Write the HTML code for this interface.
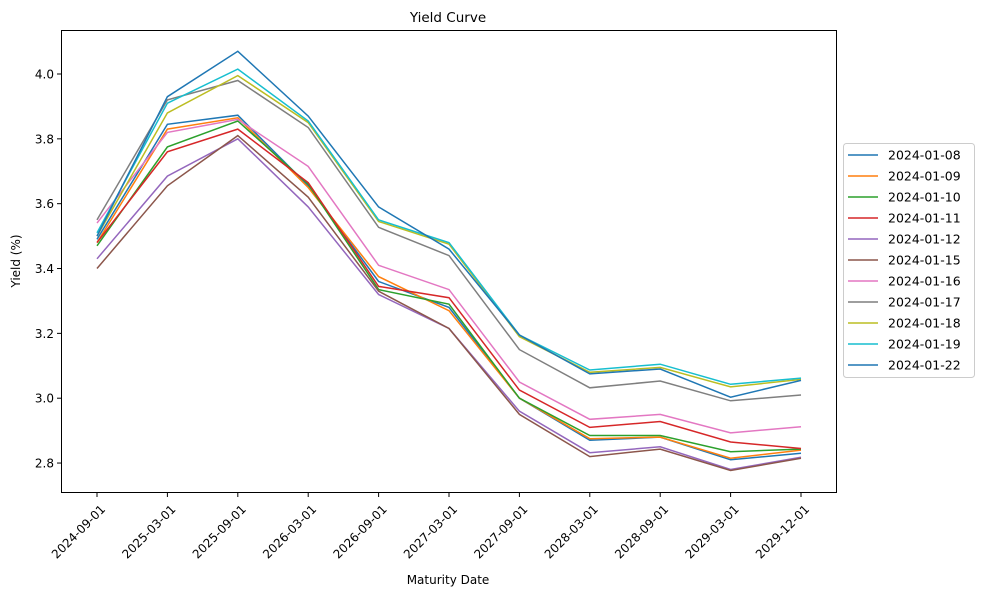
<!DOCTYPE html>
<html><head><meta charset="utf-8"><style>
body{margin:0;background:#fff}
svg{display:block;font-family:"DejaVu Sans","Liberation Sans",sans-serif}
</style></head><body>
<svg id="chart" width="984" height="598" xmlns="http://www.w3.org/2000/svg">
<rect x="0" y="0" width="984" height="598" fill="#fff"/>
<text x="448" y="22" font-size="13.5" text-anchor="middle">Yield Curve</text>
<text x="448" y="584" font-size="12" text-anchor="middle">Maturity Date</text>
<text x="20" y="261" font-size="12" text-anchor="middle" transform="rotate(-90 20 261)">Yield (%)</text>
<g id="plot"></g>
<rect x="61.5" y="30.5" width="775" height="462" fill="none" stroke="#000" stroke-width="1"/>
<g id="legend"></g>
</svg>
<script>
const categories=["2024-09-01","2025-03-01","2025-09-01","2026-03-01","2026-09-01","2027-03-01","2027-09-01","2028-03-01","2028-09-01","2029-03-01","2029-12-01"];
const seriesNames=["2024-01-08","2024-01-09","2024-01-10","2024-01-11","2024-01-12","2024-01-15","2024-01-16","2024-01-17","2024-01-18","2024-01-19","2024-01-22"];
const colors=["#1f77b4","#ff7f0e","#2ca02c","#d62728","#9467bd","#8c564b","#e377c2","#7f7f7f","#bcbd22","#17becf","#1f77b4"];
const s0108=[3.49,3.845,3.873,3.655,3.36,3.28,3.0,2.87,2.88,2.81,2.83];
const s0109=[3.48,3.83,3.865,3.65,3.375,3.27,3.0,2.875,2.88,2.815,2.84];
const s0110=[3.47,3.775,3.855,3.66,3.335,3.29,3.0,2.885,2.885,2.835,2.843];
const s0111=[3.48,3.76,3.83,3.665,3.345,3.31,3.025,2.91,2.928,2.865,2.845];
const s0112=[3.43,3.685,3.80,3.59,3.32,3.215,2.96,2.832,2.85,2.78,2.818];
const s0115=[3.40,3.655,3.81,3.62,3.33,3.215,2.95,2.82,2.843,2.777,2.815];
const s0116=[3.54,3.82,3.86,3.715,3.41,3.335,3.05,2.935,2.95,2.893,2.912];
const s0117=[3.55,3.92,3.98,3.835,3.527,3.44,3.15,3.032,3.053,2.992,3.01];
const s0118=[3.50,3.88,3.995,3.85,3.545,3.475,3.19,3.08,3.095,3.035,3.058];
const s0119=[3.51,3.91,4.015,3.855,3.55,3.48,3.195,3.087,3.105,3.043,3.062];
const s0122=[3.50,3.93,4.07,3.87,3.59,3.46,3.195,3.075,3.09,3.003,3.055];
const seriesValues=[s0108,s0109,s0110,s0111,s0112,s0115,s0116,s0117,s0118,s0119,s0122];
const yTicks=[2.8,3.0,3.2,3.4,3.6,3.8,4.0];

const NS="http://www.w3.org/2000/svg";
function xScale(i){return 97+i*(801-97)/(categories.length-1);}
function yScale(v){return 74+(4.0-v)*324.2;}
const plot=document.getElementById('plot');
function mk(tag,attrs,parent){const e=document.createElementNS(NS,tag);for(const k in attrs)e.setAttribute(k,attrs[k]);parent.appendChild(e);return e;}

yTicks.forEach(t=>{
  const y=yScale(t);
  const tk=mk('line',{x1:57,x2:61.5,y1:y,y2:y,stroke:'#000'},plot);
  
  
  const lb=mk('text',{x:54,y:y+4.5,'font-size':12,'text-anchor':'end'},plot);
  lb.textContent=t.toFixed(1);
  
  
});
categories.forEach((c,i)=>{
  const x=xScale(i);
  const tk=mk('line',{x1:x,x2:x,y1:492.5,y2:497,stroke:'#000'},plot);
  
  
  const ax=x+9, ay=510;
  const lb=mk('text',{x:ax,y:ay,'font-size':12,'text-anchor':'end',transform:`rotate(-45 ${ax} ${ay})`},plot);
  lb.textContent=c;
  
  
});
seriesValues.forEach((vals,s)=>{
  const pts=vals.map((v,i)=>xScale(i).toFixed(1)+','+yScale(v).toFixed(1)).join(' ');
  const pl=mk('polyline',{points:pts,fill:'none',stroke:colors[s],'stroke-width':1.5},plot);
  
  
});
const lg=document.getElementById('legend');
const box=mk('rect',{x:843.5,y:143.5,width:131,height:234,rx:3,fill:'#fff',stroke:'#ccc'},lg);


seriesNames.forEach((n,i)=>{
  const y=155+i*21;
  const ln=mk('line',{x1:848,x2:878,y1:y,y2:y,stroke:colors[i],'stroke-width':1.5},lg);
  
  
  const t=mk('text',{x:888,y:y+4.5,'font-size':12.5},lg);
  t.textContent=n;
  
  
});
</script>
</body></html>
